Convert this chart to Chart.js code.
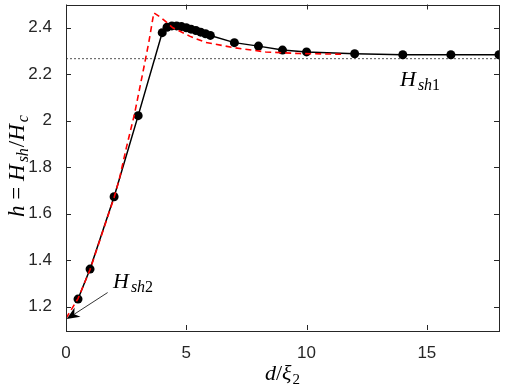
<html lang="en">
<head>
  <meta charset="utf-8" />
  <title>h vs d/xi2</title>
  <style>
    * { margin: 0; padding: 0; box-sizing: border-box; }
    body { width: 505px; height: 390px; background: #ffffff; }
    #chart { display: block; }
  </style>
</head>
<body>
  <canvas id="chart" width="505" height="390"></canvas>
  <script src="https://cdn.jsdelivr.net/npm/chart.js@4.4.1/dist/chart.umd.min.js"></script>
  <script>
    // simulation points (black)
    const simX = [0.5, 1, 2, 3, 4, 4.2, 4.4, 4.6, 4.8, 5, 5.2, 5.4, 5.6, 5.8, 6, 7, 8, 9, 10, 12, 14, 16, 18];
    const simY = [1.233, 1.362, 1.673, 2.022, 2.379, 2.402, 2.408, 2.408, 2.405, 2.400, 2.394, 2.388, 2.381, 2.374, 2.367, 2.336, 2.321, 2.304, 2.296, 2.288, 2.284, 2.284, 2.284];
    // model curve (red dashed)
    const modelX = [0, 0.5, 1, 1.5, 2, 2.22, 2.5, 2.85, 3.2, 3.44, 3.65, 3.96, 4.44, 5.14, 5.8, 7.0, 8.3, 9.7, 11.5];
    const modelY = [1.15, 1.235, 1.36, 1.515, 1.67, 1.75, 1.88, 2.03, 2.21, 2.336, 2.464, 2.443, 2.40, 2.364, 2.337, 2.314, 2.296, 2.289, 2.286];
    const hsh1 = 2.267;
    const xTicks = [0, 5, 10, 15];
    const yTicks = [1.2, 1.4, 1.6, 1.8, 2, 2.2, 2.4];

    const toPts = (xs, ys) => xs.map((x, i) => ({ x: x, y: ys[i] }));
    const axisColor = "#262626";
    const serif = '"Liberation Serif", "DejaVu Serif", serif';

    // draw a sequence of text runs: [text, size, italic, dy, extra gap]
    function drawRuns(ctx, runs, x, y) {
      let cx = x;
      for (const r of runs) {
        ctx.font = (r[2] ? "italic " : "") + r[1] + "px " + serif;
        ctx.fillText(r[0], cx, y + (r[3] || 0));
        cx += ctx.measureText(r[0]).width + (r[4] || 0);
      }
      return cx - x;
    }
    function runsWidth(ctx, runs) {
      let w = 0;
      for (const r of runs) {
        ctx.font = (r[2] ? "italic " : "") + r[1] + "px " + serif;
        w += ctx.measureText(r[0]).width + (r[4] || 0);
      }
      return w;
    }

    const decorPlugin = {
      id: "decor",
      afterDraw(chart) {
        const ctx = chart.ctx;
        const a = chart.chartArea;
        const xs = chart.scales.x, ys = chart.scales.y;
        ctx.save();
        ctx.strokeStyle = axisColor;
        ctx.lineWidth = 1;
        ctx.strokeRect(Math.round(a.left) + 0.5, Math.round(a.top) + 0.5,
          Math.round(a.right - a.left), Math.round(a.bottom - a.top));
        const tl = 5;
        ctx.beginPath();
        for (const v of xTicks) {
          const px = Math.round(xs.getPixelForValue(v)) + 0.5;
          ctx.moveTo(px, a.bottom); ctx.lineTo(px, a.bottom - tl);
          ctx.moveTo(px, a.top); ctx.lineTo(px, a.top + tl);
        }
        for (const v of yTicks) {
          const py = Math.round(ys.getPixelForValue(v)) + 0.5;
          ctx.moveTo(a.left, py); ctx.lineTo(a.left + tl, py);
          ctx.moveTo(a.right, py); ctx.lineTo(a.right - tl, py);
        }
        ctx.stroke();

        // arrow to H_sh2
        const tx = xs.getPixelForValue(0.03), ty = ys.getPixelForValue(1.147);
        const sx = xs.getPixelForValue(1.73), sy = ys.getPixelForValue(1.261);
        const ang = Math.atan2(ty - sy, tx - sx);
        ctx.strokeStyle = "#000";
        ctx.fillStyle = "#000";
        ctx.lineWidth = 0.8;
        ctx.beginPath();
        ctx.moveTo(sx, sy);
        ctx.lineTo(tx - 9 * Math.cos(ang), ty - 9 * Math.sin(ang));
        ctx.stroke();
        ctx.beginPath();
        ctx.moveTo(tx, ty);
        ctx.lineTo(tx - 14 * Math.cos(ang - 0.4), ty - 14 * Math.sin(ang - 0.4));
        ctx.lineTo(tx - 9 * Math.cos(ang), ty - 9 * Math.sin(ang));
        ctx.lineTo(tx - 14 * Math.cos(ang + 0.4), ty - 14 * Math.sin(ang + 0.4));
        ctx.closePath();
        ctx.fill();

        // annotations
        ctx.fillStyle = "#000";
        ctx.textBaseline = "alphabetic";
        ctx.textAlign = "left";
        drawRuns(ctx, [["H", 22, true, 0, 2], ["sh", 16, true, 4], ["2", 16, false, 4]], 113, 288);
        drawRuns(ctx, [["H", 22, true, 0, 2], ["sh", 16, true, 4], ["1", 16, false, 4]], 400, 86);

        // x axis title
        const xr = [["d", 22, true], ["/", 22, false], ["ξ", 22, true, 0, 1], ["2", 15, false, 4]];
        const xw = runsWidth(ctx, xr);
        drawRuns(ctx, xr, (a.left + a.right) / 2 - xw / 2, 380);

        // y axis title
        const yr = [["h", 23, true], [" = ", 23, false], ["H", 23, true, 0, 2], ["sh", 16, true, 4, 1],
          ["/", 23, false], ["H", 23, true, 0, 2], ["c", 16, true, 4]];
        const yw = runsWidth(ctx, yr);
        ctx.translate(24, 166);
        ctx.rotate(-Math.PI / 2);
        drawRuns(ctx, yr, -yw / 2, 0);
        ctx.restore();
      }
    };

    new Chart(document.getElementById("chart"), {
      type: "scatter",
      plugins: [decorPlugin],
      data: {
        datasets: [
          {
            label: "model",
            data: toPts(modelX, modelY),
            showLine: true,
            borderColor: "#ff0000",
            borderWidth: 1.6,
            borderDash: [6, 4],
            pointRadius: 0,
            order: 0,
          },
          {
            label: "simulation",
            data: toPts(simX, simY),
            showLine: true,
            borderColor: "#000000",
            backgroundColor: "#000000",
            borderWidth: 1.5,
            pointRadius: 4.5,
            pointBorderWidth: 0,
            order: 1,
          },
          {
            label: "Hsh1",
            data: [{ x: 0, y: hsh1 }, { x: 18, y: hsh1 }],
            showLine: true,
            borderColor: "#555555",
            borderWidth: 1,
            borderDash: [2, 2],
            pointRadius: 0,
            order: 2,
          },
        ],
      },
      options: {
        responsive: false,
        animation: false,
        layout: { padding: { top: 3, right: 6, left: 0, bottom: 0 } },
        plugins: { legend: { display: false }, tooltip: { enabled: false } },
        scales: {
          x: {
            type: "linear",
            min: 0,
            max: 18,
            afterFit: (s) => { s.height = 60; s.paddingLeft = 0; s.paddingRight = 0; },
            afterBuildTicks: (s) => { s.ticks = xTicks.map((v) => ({ value: v })); },
            grid: { display: false },
            border: { display: false },
            ticks: {
              color: axisColor,
              padding: 5,
              font: { family: '"Liberation Sans", Arial, sans-serif', size: 17 },
            },
          },
          y: {
            type: "linear",
            min: 1.1,
            max: 2.5,
            afterFit: (s) => { s.width = 66; s.paddingTop = 0; s.paddingBottom = 0; },
            afterBuildTicks: (s) => { s.ticks = yTicks.map((v) => ({ value: v })); },
            grid: { display: false },
            border: { display: false },
            ticks: {
              color: axisColor,
              padding: 6,
              callback: (v) => String(+Number(v).toFixed(2)),
              font: { family: '"Liberation Sans", Arial, sans-serif', size: 17 },
            },
          },
        },
      },
    });
  </script>
</body>
</html>
